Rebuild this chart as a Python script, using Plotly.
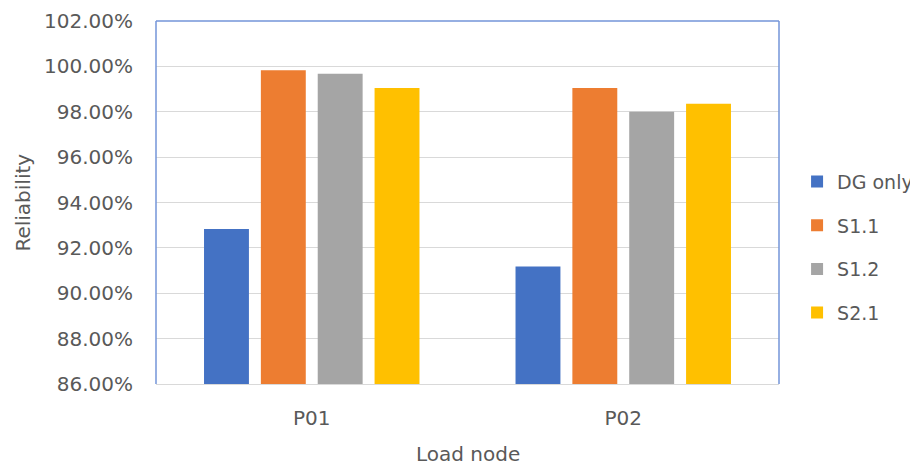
import plotly.graph_objects as go

categories = ["P01", "P02"]
series_names = ["DG only", "S1.1", "S1.2", "S2.1"]
dg_only = [0.9283, 0.9118]
s1_1 = [0.9983, 0.9905]
s1_2 = [0.9968, 0.9800]
s2_1 = [0.9905, 0.9835]
colors = ["#4472C4", "#ED7D31", "#A5A5A5", "#FFC000"]
y_ticks = [0.86, 0.88, 0.90, 0.92, 0.94, 0.96, 0.98, 1.00, 1.02]

FONT = "DejaVu Sans"
GRAY = "#595959"
FS = 20

fig = go.Figure()
for i, (name, vals) in enumerate(zip(series_names, [dg_only, s1_1, s1_2, s2_1])):
    fig.add_trace(go.Bar(
        x=categories, y=vals, name=name, marker_color=colors[i],
        marker_line_width=0, legendgroup=name,
    ))

border = "#7394D8"
fig.update_layout(
    width=910, height=459,
    margin=dict(l=148, r=139, t=13, b=83, autoexpand=False),
    paper_bgcolor="white", plot_bgcolor="white",
    barmode="group", bargap=0.27, bargroupgap=0.21,
    font=dict(family=FONT, size=FS, color=GRAY),
    showlegend=True,
    legend=dict(x=1.029, y=0.377, xanchor="left", yanchor="middle",
                font=dict(family=FONT, size=19, color=GRAY),
                tracegroupgap=16, itemwidth=30, bgcolor="rgba(0,0,0,0)"),
    xaxis=dict(
        automargin=False,
        showgrid=False, showline=True, linecolor="#D9D9D9", linewidth=1,
        ticks="", ticklabelstandoff=16, tickfont=dict(family=FONT, size=FS, color=GRAY),
    ),
    yaxis=dict(
        automargin=False,
        range=[0.86, 1.02], tickvals=y_ticks, tickformat=".2%",
        showgrid=True, gridcolor="#D9D9D9", gridwidth=1, zeroline=False,
        showline=False, ticks="", ticklabelstandoff=22,
        tickfont=dict(family=FONT, size=FS, color=GRAY),
    ),
    annotations=[
        dict(text="Load node", xref="paper", yref="paper", x=0.5, y=-0.193,
             xanchor="center", yanchor="middle", showarrow=False,
             font=dict(family=FONT, size=FS, color=GRAY)),
        dict(text="Reliability", xref="paper", yref="paper", x=-0.215, y=0.5,
             xanchor="center", yanchor="middle", showarrow=False, textangle=-90,
             font=dict(family=FONT, size=FS, color=GRAY)),
    ],
    shapes=[
        dict(type="line", xref="paper", yref="paper", x0=0, x1=0, y0=0, y1=1, line=dict(color=border, width=1.5)),
        dict(type="line", xref="paper", yref="paper", x0=0, x1=1, y0=1, y1=1, line=dict(color=border, width=1.5)),
        dict(type="line", xref="paper", yref="paper", x0=1, x1=1, y0=0, y1=1, line=dict(color=border, width=1.5)),
    ],
)

fig.write_html("out.html")
